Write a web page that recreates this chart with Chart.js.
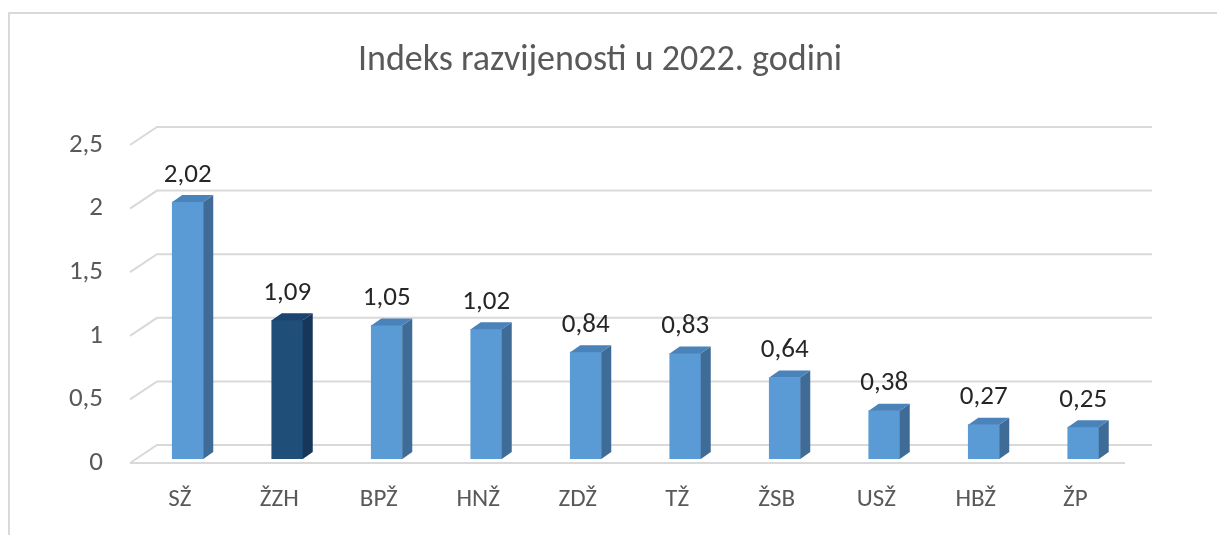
<!DOCTYPE html>
<html>
<head>
<meta charset="utf-8">
<script src="https://cdn.jsdelivr.net/npm/chart.js@4.4.1/dist/chart.umd.min.js"></script>
<style>
  html, body { margin: 0; padding: 0; background: #fff; }
  #wrap { position: relative; width: 1217px; height: 535px; overflow: hidden; }
  #frame { position: absolute; left: 8px; top: 12px; width: 1300px; height: 600px;
           border-left: 2px solid #d9d9d9; border-top: 2px solid #d9d9d9; }
  #chart { position: absolute; left: 0; top: 0; }
</style>
</head>
<body>
<div id="wrap">
  <div id="frame"></div>
  <canvas id="chart" width="1217" height="535"></canvas>
</div>
<script>
// Données du graphique
const titre = 'Indeks razvijenosti u 2022. godini';
const categories = ['SŽ', 'ŽZH', 'BPŽ', 'HNŽ', 'ZDŽ', 'TŽ', 'ŽSB', 'USŽ', 'HBŽ', 'ŽP'];
const indeks = [2.02, 1.09, 1.05, 1.02, 0.84, 0.83, 0.64, 0.38, 0.27, 0.25];
const yTicks = [0, 0.5, 1, 1.5, 2, 2.5];
const highlight = 'ŽZH';

const FONT = "Carlito, 'Open Sans', sans-serif";
const DEPTH_X = 27, DEPTH_Y = -18;   // profondeur du mur arrière
const BAR_DX = 8, BAR_DY = -4;       // position des barres dans la profondeur
const SIDE_X = 10, SIDE_Y = -7;      // épaisseur des barres

const fmt = v => String(v).replace('.', ',');

const colors = categories.map(c => c === highlight ? '#1f4e79' : '#5b9bd5');
const sideColors = categories.map(c => c === highlight ? '#17375a' : '#3e6c96');
const topColors = categories.map(c => c === highlight ? '#1b4470' : '#4a82ba');

// Titre (centré comme dans Excel, sur toute la zone du graphique)
const titlePlugin = {
  id: 'titre',
  afterDraw(chart) {
    const ctx = chart.ctx;
    ctx.save();
    ctx.fillStyle = '#595959';
    ctx.font = '36px ' + FONT;
    ctx.textAlign = 'center';
    ctx.textBaseline = 'middle';
    ctx.fillText(titre, 600, 61);
    ctx.restore();
  }
};

// Grille en perspective (mur arrière + sol)
const gridPlugin = {
  id: 'grid3d',
  beforeDatasetsDraw(chart) {
    const { ctx, chartArea, scales } = chart;
    ctx.save();
    ctx.strokeStyle = '#d9d9d9';
    ctx.lineWidth = 2;
    yTicks.forEach(v => {
      const y = scales.y.getPixelForValue(v);
      ctx.beginPath();
      ctx.moveTo(chartArea.left, y);
      ctx.lineTo(chartArea.left + DEPTH_X, y + DEPTH_Y);
      ctx.lineTo(chartArea.right + DEPTH_X, y + DEPTH_Y);
      ctx.stroke();
    });
    const y0 = scales.y.getPixelForValue(0);
    ctx.beginPath();
    ctx.moveTo(chartArea.left, y0);
    ctx.lineTo(chartArea.right, y0);
    ctx.stroke();
    ctx.restore();
  }
};

// Barres en 3D : décaler la face avant, puis dessiner le dessus et le côté
const barsPlugin = {
  id: 'bars3d',
  beforeDatasetsDraw(chart) {
    chart.ctx.save();
    chart.ctx.translate(BAR_DX, BAR_DY);
  },
  afterDatasetsDraw(chart) {
    const ctx = chart.ctx;
    ctx.restore();
    const meta = chart.getDatasetMeta(0);
    ctx.save();
    meta.data.forEach((bar, i) => {
      const p = bar.getProps(['x', 'y', 'base', 'width'], true);
      const l = p.x - p.width / 2 + BAR_DX;
      const r = p.x + p.width / 2 + BAR_DX;
      const t = p.y + BAR_DY;
      const b = p.base + BAR_DY;

      ctx.fillStyle = sideColors[i];
      ctx.beginPath();
      ctx.moveTo(r, t);
      ctx.lineTo(r + SIDE_X, t + SIDE_Y);
      ctx.lineTo(r + SIDE_X, b + SIDE_Y);
      ctx.lineTo(r, b);
      ctx.closePath();
      ctx.fill();

      ctx.fillStyle = topColors[i];
      ctx.beginPath();
      ctx.moveTo(l, t);
      ctx.lineTo(l + SIDE_X, t + SIDE_Y);
      ctx.lineTo(r + SIDE_X, t + SIDE_Y);
      ctx.lineTo(r, t);
      ctx.closePath();
      ctx.fill();

      // Étiquette de valeur
      ctx.fillStyle = '#262626';
      ctx.font = '27px ' + FONT;
      ctx.textAlign = 'center';
      ctx.textBaseline = 'middle';
      ctx.fillText(fmt(indeks[i]), (l + r) / 2, t - 27);
    });
    ctx.restore();
  }
};

new Chart(document.getElementById('chart'), {
  type: 'bar',
  data: {
    labels: categories,
    datasets: [{
      data: indeks,
      backgroundColor: colors,
      borderWidth: 0,
      barThickness: 31
    }]
  },
  options: {
    responsive: false,
    animation: false,
    layout: { padding: { left: 0, right: 92, top: 145, bottom: 0 } },
    plugins: {
      legend: { display: false },
      tooltip: { enabled: false },
      title: { display: false }
    },
    scales: {
      x: {
        grid: { display: false, drawTicks: false },
        border: { display: false },
        ticks: {
          color: '#595959',
          font: { family: FONT, size: 25 },
          padding: 22
        },
        afterFit(scale) { scale.height = 72; }
      },
      y: {
        min: 0,
        max: 2.5,
        grid: { display: false, drawTicks: false },
        border: { display: false },
        ticks: {
          stepSize: 0.5,
          color: '#595959',
          font: { family: FONT, size: 27 },
          padding: 27,
          callback: v => fmt(v)
        },
        afterFit(scale) { scale.width = 130; }
      }
    }
  },
  plugins: [gridPlugin, barsPlugin, titlePlugin]
});
</script>
</body>
</html>
